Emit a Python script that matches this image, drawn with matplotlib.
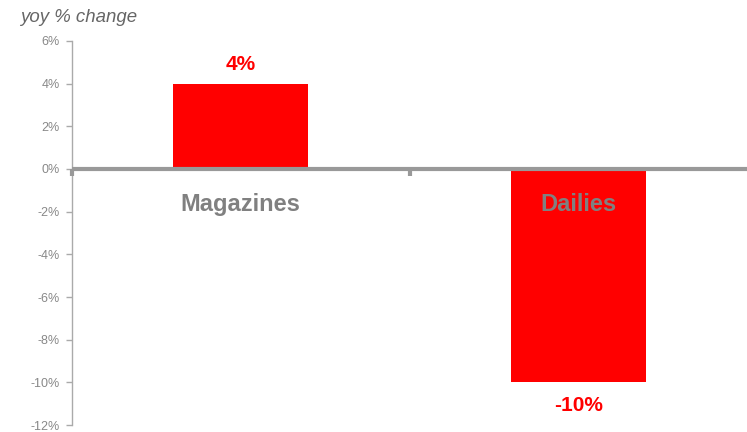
import matplotlib.pyplot as plt
import numpy as np

# Data
categories = ['Magazines', 'Dailies']
yoy_change = [4, -10]
value_labels = ['4%', '-10%']
y_ticks = [6, 4, 2, 0, -2, -4, -6, -8, -10, -12]

plt.rcParams['font.family'] = ['Liberation Sans', 'DejaVu Sans']

fig = plt.figure(figsize=(7.47, 4.32), dpi=100)
ax = fig.add_axes([0.0964, 0.0162, 0.9036, 0.8889])

x = np.arange(len(categories))
ax.bar(x, yoy_change, width=0.4, color='#ff0000', zorder=2)

ax.set_xlim(-0.5, 1.5)
ax.set_ylim(-12, 6)

# Zero line with category separators
ax.axhline(0, color='#999999', linewidth=3, zorder=3)
for sep in [-0.5, 0.5]:
    ax.plot([sep, sep], [0, -0.35], color='#999999', linewidth=3, zorder=3,
            solid_capstyle='butt', clip_on=False)

# Category labels below the zero line
for xi, name in zip(x, categories):
    ax.text(xi, -1.65, name, ha='center', va='center', fontsize=17,
            fontweight='bold', color='#808080', zorder=4)

# Value labels
for xi, v, lab in zip(x, yoy_change, value_labels):
    off = 0.9 if v > 0 else -1.07
    ax.text(xi, v + off, lab, ha='center', va='center', fontsize=15,
            fontweight='bold', color='#ff0000')

ax.set_yticks(y_ticks)
ax.set_yticklabels([f'{t}%' for t in y_ticks])
ax.tick_params(axis='y', direction='out', length=4, width=1, color='#aaaaaa',
               labelsize=9, labelcolor='#888888', pad=5)
ax.set_xticks([])

for s in ['top', 'right', 'bottom']:
    ax.spines[s].set_visible(False)
ax.spines['left'].set_color('#aaaaaa')
ax.spines['left'].set_linewidth(1)

fig.text(0.027, 0.96, 'yoy % change', fontsize=13.4, style='italic',
         color='#666666', ha='left', va='center')

fig.savefig('out.png', dpi=100)
